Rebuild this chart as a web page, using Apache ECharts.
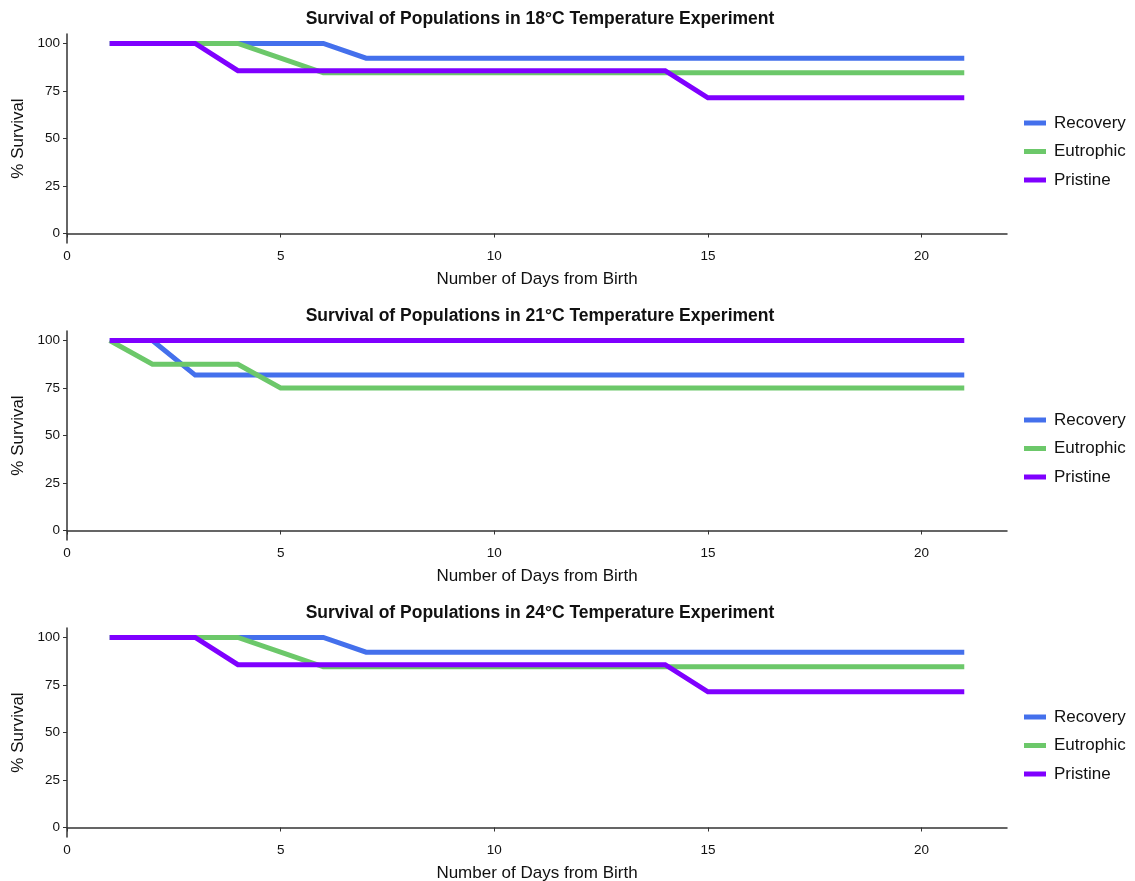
<!DOCTYPE html>
<html>
<head>
<meta charset="utf-8">
<title>Survival of Populations</title>
<script src="https://cdn.jsdelivr.net/npm/echarts@6/dist/echarts.min.js"></script>
<style>
  html, body { margin: 0; padding: 0; background: #fff; }
  #chart { width: 1135px; height: 881px; }
</style>
</head>
<body>
<div id="chart"></div>
<script>
// Days since birth shared by every experiment
const days = [1, 2, 3, 4, 5, 6, 7, 8, 9, 10, 11, 12, 13, 14, 15, 16, 17, 18, 19, 20, 21];

const seriesNames = ['Recovery', 'Eutrophic', 'Pristine'];
const seriesColors = ['#4470EC', '#6CC86A', '#7F00FF'];

const xTicks = [0, 5, 10, 15, 20];
const yTicks = [0, 25, 50, 75, 100];

const titles = [
  'Survival of Populations in 18°C Temperature Experiment',
  'Survival of Populations in 21°C Temperature Experiment',
  'Survival of Populations in 24°C Temperature Experiment'
];

// % survival, 18°C
const recovery18  = [100, 100, 100, 100, 100, 100, 92.3, 92.3, 92.3, 92.3, 92.3, 92.3, 92.3, 92.3, 92.3, 92.3, 92.3, 92.3, 92.3, 92.3, 92.3];
const eutrophic18 = [100, 100, 100, 100, 92.3, 84.6, 84.6, 84.6, 84.6, 84.6, 84.6, 84.6, 84.6, 84.6, 84.6, 84.6, 84.6, 84.6, 84.6, 84.6, 84.6];
const pristine18  = [100, 100, 100, 85.7, 85.7, 85.7, 85.7, 85.7, 85.7, 85.7, 85.7, 85.7, 85.7, 85.7, 71.4, 71.4, 71.4, 71.4, 71.4, 71.4, 71.4];

// % survival, 21°C
const recovery21  = [100, 100, 81.8, 81.8, 81.8, 81.8, 81.8, 81.8, 81.8, 81.8, 81.8, 81.8, 81.8, 81.8, 81.8, 81.8, 81.8, 81.8, 81.8, 81.8, 81.8];
const eutrophic21 = [100, 87.5, 87.5, 87.5, 75, 75, 75, 75, 75, 75, 75, 75, 75, 75, 75, 75, 75, 75, 75, 75, 75];
const pristine21  = [100, 100, 100, 100, 100, 100, 100, 100, 100, 100, 100, 100, 100, 100, 100, 100, 100, 100, 100, 100, 100];

// % survival, 24°C
const recovery24  = [100, 100, 100, 100, 100, 100, 92.3, 92.3, 92.3, 92.3, 92.3, 92.3, 92.3, 92.3, 92.3, 92.3, 92.3, 92.3, 92.3, 92.3, 92.3];
const eutrophic24 = [100, 100, 100, 100, 92.3, 84.6, 84.6, 84.6, 84.6, 84.6, 84.6, 84.6, 84.6, 84.6, 84.6, 84.6, 84.6, 84.6, 84.6, 84.6, 84.6];
const pristine24  = [100, 100, 100, 85.7, 85.7, 85.7, 85.7, 85.7, 85.7, 85.7, 85.7, 85.7, 85.7, 85.7, 71.4, 71.4, 71.4, 71.4, 71.4, 71.4, 71.4];

const panels = [
  [recovery18, eutrophic18, pristine18],
  [recovery21, eutrophic21, pristine21],
  [recovery24, eutrophic24, pristine24]
];

// Panel placement on the page
const gridTops = [34, 331, 628];
const gridHeight = 209;
const gridLeft = 67;
const gridWidth = 940;
const legendTops = [114, 411, 708];

const FONT = '"Liberation Sans", Arial, Helvetica, sans-serif';
const AXIS_COLOR = '#333';
const TEXT_COLOR = '#111';

const option = {
  animation: false,
  backgroundColor: '#fff',
  textStyle: { fontFamily: FONT },
  title: titles.map((t, i) => ({
    text: t,
    left: 540,
    textAlign: 'center',
    top: gridTops[i] - 24,
    padding: 0,
    textStyle: { fontFamily: FONT, fontSize: 17.5, fontWeight: 'bold', color: TEXT_COLOR }
  })),
  legend: legendTops.map(top => ({
    data: seriesNames,
    orient: 'vertical',
    left: 1024,
    top: top,
    padding: 0,
    icon: 'rect',
    itemWidth: 22,
    itemHeight: 5,
    itemGap: 10.5,
    selectedMode: false,
    textStyle: { fontFamily: FONT, fontSize: 17, color: TEXT_COLOR, lineHeight: 18, padding: [0, 0, 0, 3] }
  })),
  grid: gridTops.map(top => ({
    left: gridLeft,
    top: top,
    width: gridWidth,
    height: gridHeight,
    containLabel: false,
    outerBoundsMode: 'none'
  })),
  xAxis: gridTops.map((_, i) => ({
    type: 'value',
    gridIndex: i,
    min: 0,
    max: 22,
    name: 'Number of Days from Birth',
    nameLocation: 'middle',
    nameGap: 28,
    nameTextStyle: { fontFamily: FONT, fontSize: 17, color: TEXT_COLOR },
    axisLine: { show: true, lineStyle: { color: AXIS_COLOR, width: 1.5 } },
    axisTick: { show: true, length: 4, customValues: xTicks, lineStyle: { color: AXIS_COLOR } },
    axisLabel: { customValues: xTicks, fontSize: 13.5, color: TEXT_COLOR, margin: 6 },
    splitLine: { show: false }
  })),
  yAxis: gridTops.map((_, i) => ({
    type: 'value',
    gridIndex: i,
    min: -5,
    max: 105,
    name: '% Survival',
    nameLocation: 'middle',
    nameGap: 38,
    nameTextStyle: { fontFamily: FONT, fontSize: 17, color: TEXT_COLOR },
    axisLine: { show: true, lineStyle: { color: AXIS_COLOR, width: 1.5 } },
    axisTick: { show: true, length: 4, customValues: yTicks, lineStyle: { color: AXIS_COLOR } },
    axisLabel: { customValues: yTicks, fontSize: 13.5, color: TEXT_COLOR, margin: 7 },
    splitLine: { show: false }
  })),
  series: []
};

panels.forEach((values, p) => {
  values.forEach((vals, s) => {
    option.series.push({
      type: 'line',
      name: seriesNames[s],
      xAxisIndex: p,
      yAxisIndex: p,
      data: days.map((d, k) => [d, vals[k]]),
      showSymbol: false,
      symbol: 'none',
      color: seriesColors[s],
      lineStyle: { width: 5, color: seriesColors[s], cap: 'butt', join: 'miter' },
      z: 2 + s
    });
  });
});

const chart = echarts.init(document.getElementById('chart'), null, { renderer: 'canvas' });
chart.setOption(option);
</script>
</body>
</html>
